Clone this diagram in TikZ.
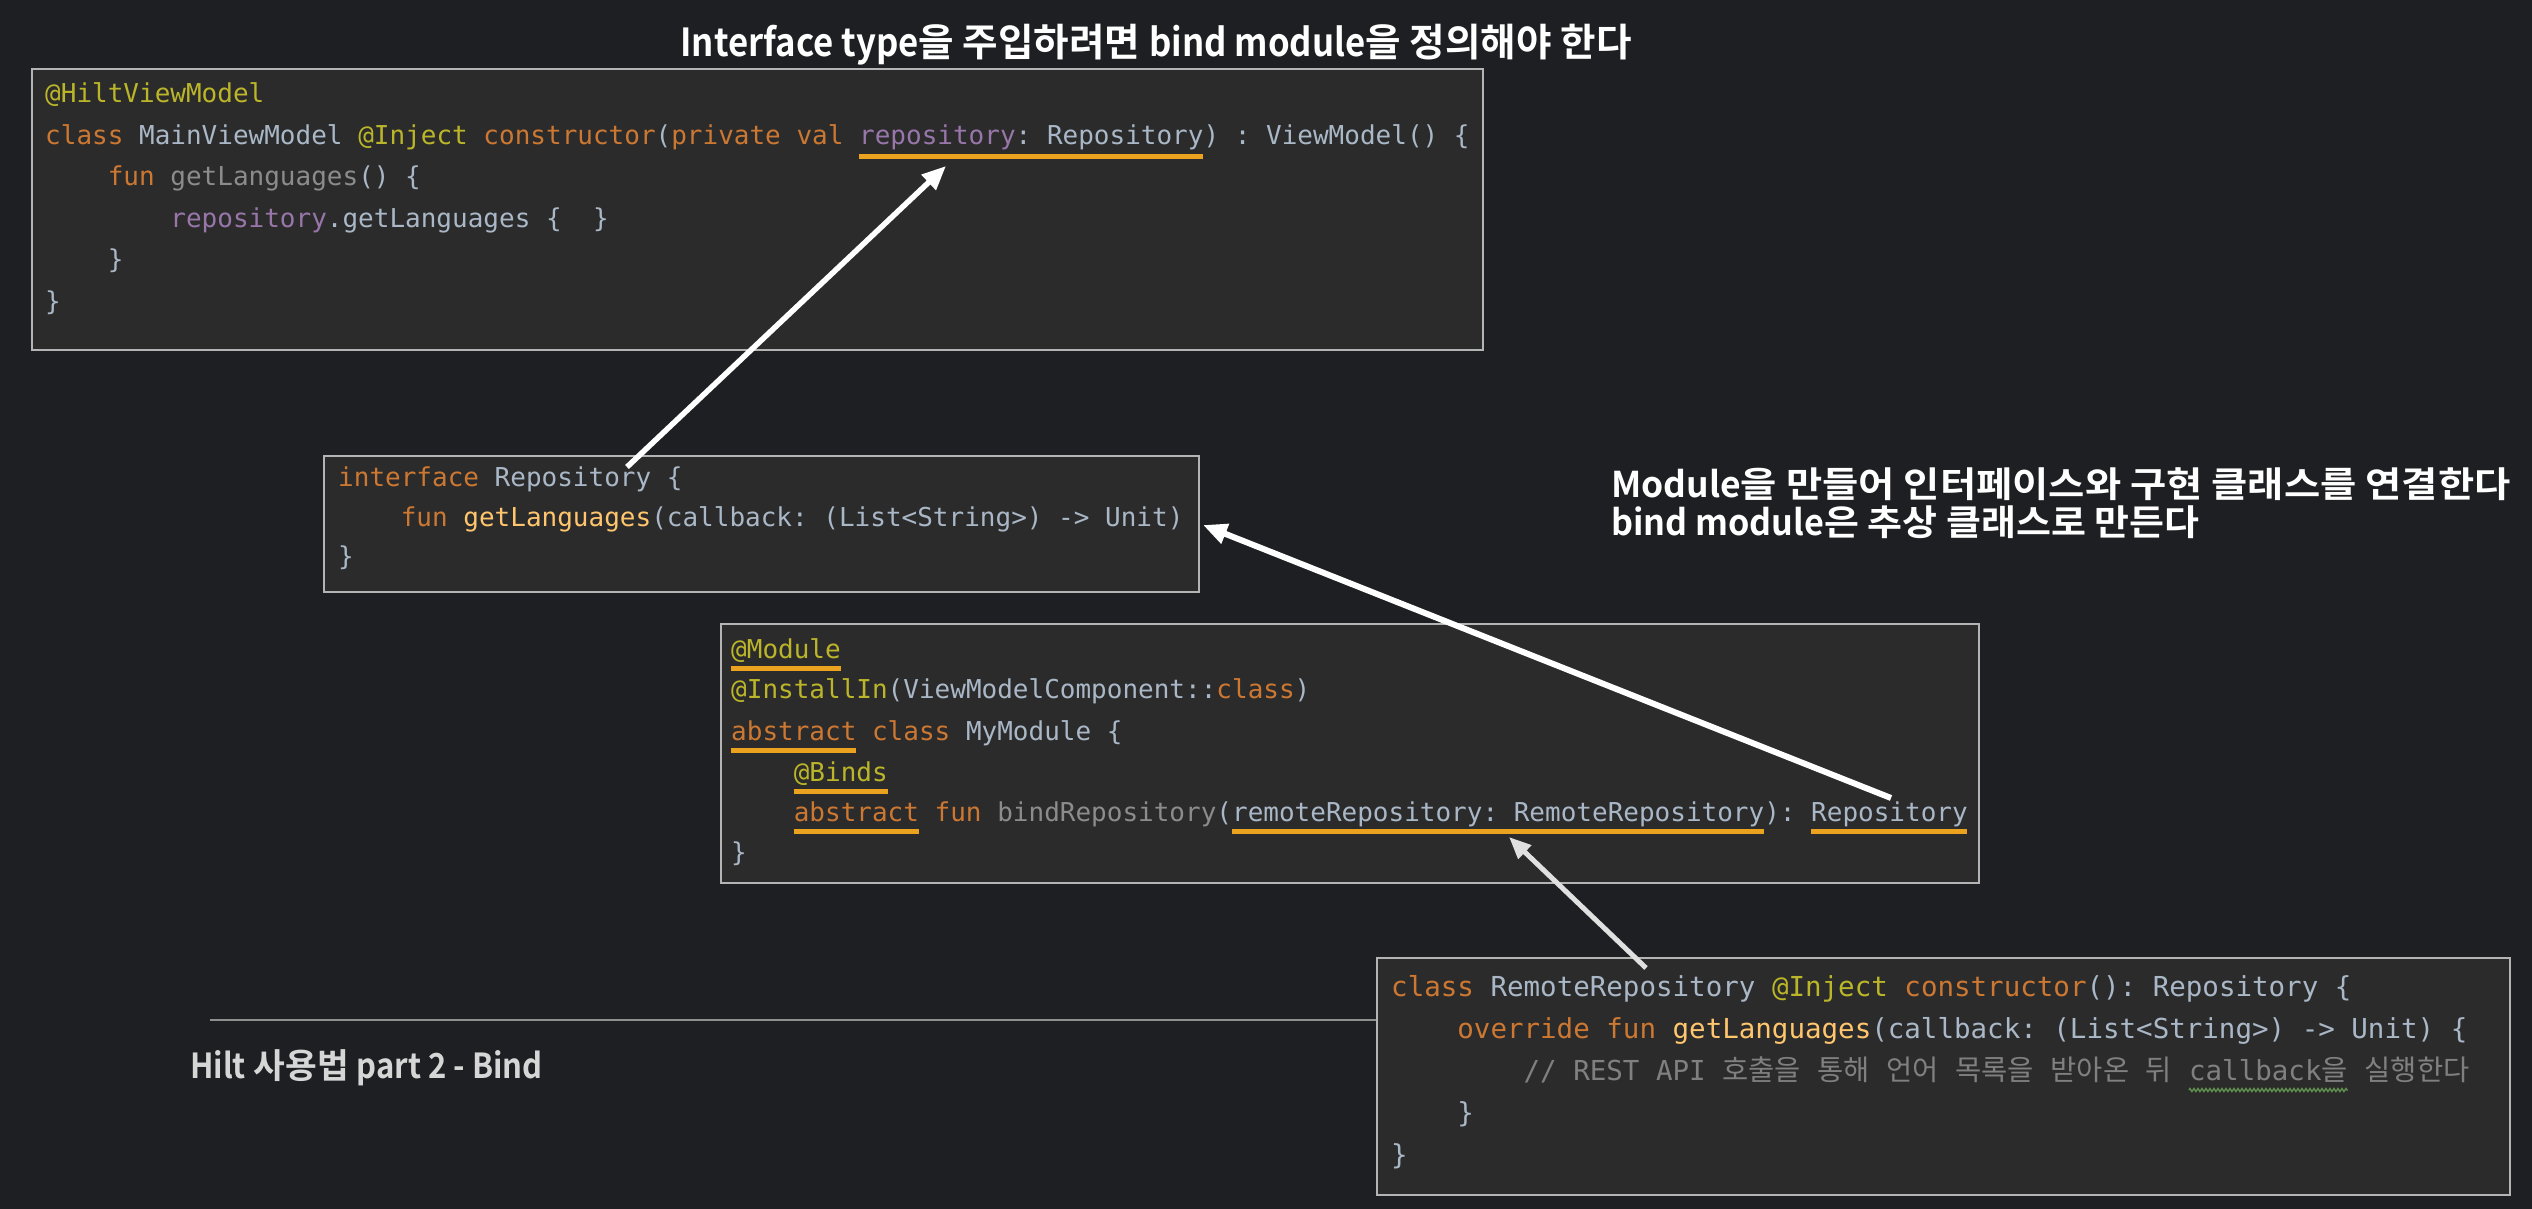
\documentclass[tikz,border=0pt]{standalone}
\usepackage{fontspec}
\usepackage{graphicx}
\setmonofont{DejaVu Sans Mono}
\newfontfamily\krfont{Noto Sans CJK KR}[BoldFont={Noto Sans CJK KR Bold}]
\usetikzlibrary{arrows.meta,decorations.pathmorphing}
\definecolor{bg}{HTML}{1E1F22}
\definecolor{boxbg}{HTML}{2B2B2B}
\definecolor{boxline}{HTML}{B4B4B4}
\definecolor{kwc}{HTML}{CC7832}
\definecolor{annc}{HTML}{BBB529}
\definecolor{idc}{HTML}{A9B7C6}
\definecolor{propc}{HTML}{9876AA}
\definecolor{fnc}{HTML}{FFC66D}
\definecolor{dimc}{HTML}{8C8C8C}
\definecolor{cmtc}{HTML}{808080}
\definecolor{ulc}{HTML}{EBA21E}
\definecolor{divc}{HTML}{8F8F8F}
\definecolor{footc}{HTML}{D6D6D6}
\definecolor{wavyc}{HTML}{5E8F4E}
\newcommand\codefonta{\ttfamily\fontsize{26}{30}\selectfont}
\newcommand\codefontb{\ttfamily\fontsize{27.5}{32}\selectfont}
\newcommand\ckw[1]{\textcolor{kwc}{#1}}
\newcommand\cann[1]{\textcolor{annc}{#1}}
\newcommand\cprop[1]{\textcolor{propc}{#1}}
\newcommand\cfn[1]{\textcolor{fnc}{#1}}
\newcommand\cdim[1]{\textcolor{dimc}{#1}}
\newcommand\hg[1]{{\krfont\fontsize{28.5}{32}\selectfont #1}}
\newcommand\lat[1]{\scalebox{0.9}[1]{#1}}
\newcommand\widen[2]{\scalebox{#1}[1]{#2}}
\newcommand\headfont{\krfont\bfseries\fontsize{38.6}{42}\selectfont}
\newcommand\notefont{\krfont\bfseries\fontsize{35.5}{40}\selectfont}
\newcommand\footfont{\krfont\bfseries\fontsize{34.5}{38}\selectfont}
\def\cwa{15.65}
\def\cwb{16.55}
\begin{document}
\begin{tikzpicture}[x=1pt,y=-1pt,
  codebox/.style={draw=boxline, fill=boxbg, line width=2pt, inner sep=0pt, anchor=north west},
  codea/.style={anchor=base west, inner sep=0pt, font=\codefonta, text=idc},
  codeb/.style={anchor=base west, inner sep=0pt, font=\codefontb, text=idc},
  cmtline/.style={codeb, text=cmtc},
  ulbar/.style={draw=ulc, line width=5pt},
  arr/.style={draw=white, line width=5.5pt, -{Triangle[length=24pt,width=20pt]}},
  arrlight/.style={draw=white!88!black, line width=5pt, -{Triangle[length=22pt,width=18pt]}},
  heading/.style={inner sep=0pt, font=\headfont, text=white},
  wavy/.style={draw=wavyc, line width=1.4pt, decorate, decoration={zigzag, segment length=4pt, amplitude=1.5pt}}
]
\fill[bg] (0,0) rectangle (2532,1209);
\useasboundingbox (0,0) rectangle (2532,1209);

% title
\node[heading, anchor=center] (title) at (1156,45) {\lat{Interface type}을 주입하려면 \lat{bind module}을 정의해야 한다};

% box 1
\node[codebox, minimum width=1451pt, minimum height=281pt] (b1) at (31,68) {};
\node[codea] (b1l1) at (45,103) {\cann{@HiltViewModel}};
\node[codea] (b1l2) at (45,145) {\ckw{class} MainViewModel \cann{@Inject} \ckw{constructor}(\ckw{private val} \cprop{repository}: Repository) : ViewModel() \{};
\node[codea] (b1l3) at (45+4*\cwa,186) {\ckw{fun} \cdim{getLanguages}() \{};
\node[codea] (b1l4) at (45+8*\cwa,227) {\cprop{repository}.getLanguages \{\ \ \}};
\node[codea] (b1l5) at (45+4*\cwa,268) {\}};
\node[codea] (b1l6) at (45,310) {\}};
\draw[ulbar] (45+52*\cwa,157) -- (45+74*\cwa,157);

% box 2
\node[codebox, minimum width=875pt, minimum height=136pt] (b2) at (323,455) {};
\node[codea] (b2l1) at (338,486) {\ckw{interface} Repository \{};
\node[codea] (b2l2) at (338+4*\cwa,526) {\ckw{fun} \cfn{getLanguages}(callback: (List<String>) -> Unit)};
\node[codea] (b2l3) at (338,565) {\}};

% box 3
\node[codebox, minimum width=1258pt, minimum height=259pt] (b3) at (720,623) {};
\node[codea] (b3l1) at (731,658) {\cann{@Module}};
\node[codea] (b3l2) at (731,698) {\cann{@InstallIn}(ViewModelComponent::\ckw{class})};
\node[codea] (b3l3) at (731,740) {\ckw{abstract class} MyModule \{};
\node[codea] (b3l4) at (731+4*\cwa,781) {\cann{@Binds}};
\node[codea] (b3l5) at (731+4*\cwa,821) {\ckw{abstract fun} \cdim{bindRepository}(remoteRepository: RemoteRepository): Repository};
\node[codea] (b3l6) at (731,861) {\}};
\draw[ulbar] (731,668) -- (731+7*\cwa,668);
\draw[ulbar] (731,750) -- (731+8*\cwa,750);
\draw[ulbar] (731+4*\cwa,791) -- (731+10*\cwa,791);
\draw[ulbar] (731+4*\cwa,831) -- (731+12*\cwa,831);
\draw[ulbar] (731+32*\cwa,831) -- (731+66*\cwa,831);
\draw[ulbar] (731+69*\cwa,831) -- (731+79*\cwa,831);

% box 4
\node[codebox, minimum width=1133pt, minimum height=237pt] (b4) at (1376,957) {};
\node[codeb] (b4l1) at (1391,996) {\ckw{class} RemoteRepository \cann{@Inject} \ckw{constructor}(): Repository \{};
\node[codeb] (b4l2) at (1391+4*\cwb,1038) {\ckw{override fun} \cfn{getLanguages}(callback: (List<String>) -> Unit) \{};
\node[cmtline] (b4c1) at (1391+8*\cwb,1080) {// REST API \hg{호출을} \hg{통해} \hg{언어} \hg{목록을} \hg{받아온} \hg{뒤}};
\node[cmtline, xshift=\cwb pt] (b4c2) at (b4c1.base east) {callback\hg{을}};
\node[cmtline, xshift=\cwb pt] (b4c3) at (b4c2.base east) {\hg{실행한다}};
\draw[wavy] ([yshift=-10pt]b4c2.base west) -- ([yshift=-10pt]b4c2.base east);
\node[codeb] (b4l4) at (1391+4*\cwb,1122) {\}};
\node[codeb] (b4l5) at (1391,1164) {\}};

% right annotation
\node[heading, anchor=west, font=\notefont] (note1) at (1611,484) {\widen{1.11}{\lat{Module}을 만들어 인터페이스와 구현 클래스를 연결한다}};
\node[heading, anchor=west, font=\notefont] (note2) at (1611,522) {\widen{1.07}{\lat{bind module}은 추상 클래스로 만든다}};

% divider and footer
\coordinate (divL) at (210,1020);
\draw[draw=divc, line width=2.5pt] (divL) -- (divL -| b4.west);
\node[heading, anchor=west, text=footc, font=\footfont] (footer) at (190,1068) {\lat{Hilt} 사용법 \lat{part 2 - Bind}};

% arrows
\coordinate (a1s) at (627,467);
\coordinate (a1e) at (946,166);
\coordinate (a2s) at (1891,798);
\coordinate (a2e) at (1203,525);
\coordinate (a3s) at (1646,968);
\coordinate (a3e) at (1509,837);
\draw[arr] (a1s) -- (a1e);
\draw[arr, line width=6pt] (a2s) -- (a2e);
\draw[arrlight] (a3s) -- (a3e);
\end{tikzpicture}
\end{document}
